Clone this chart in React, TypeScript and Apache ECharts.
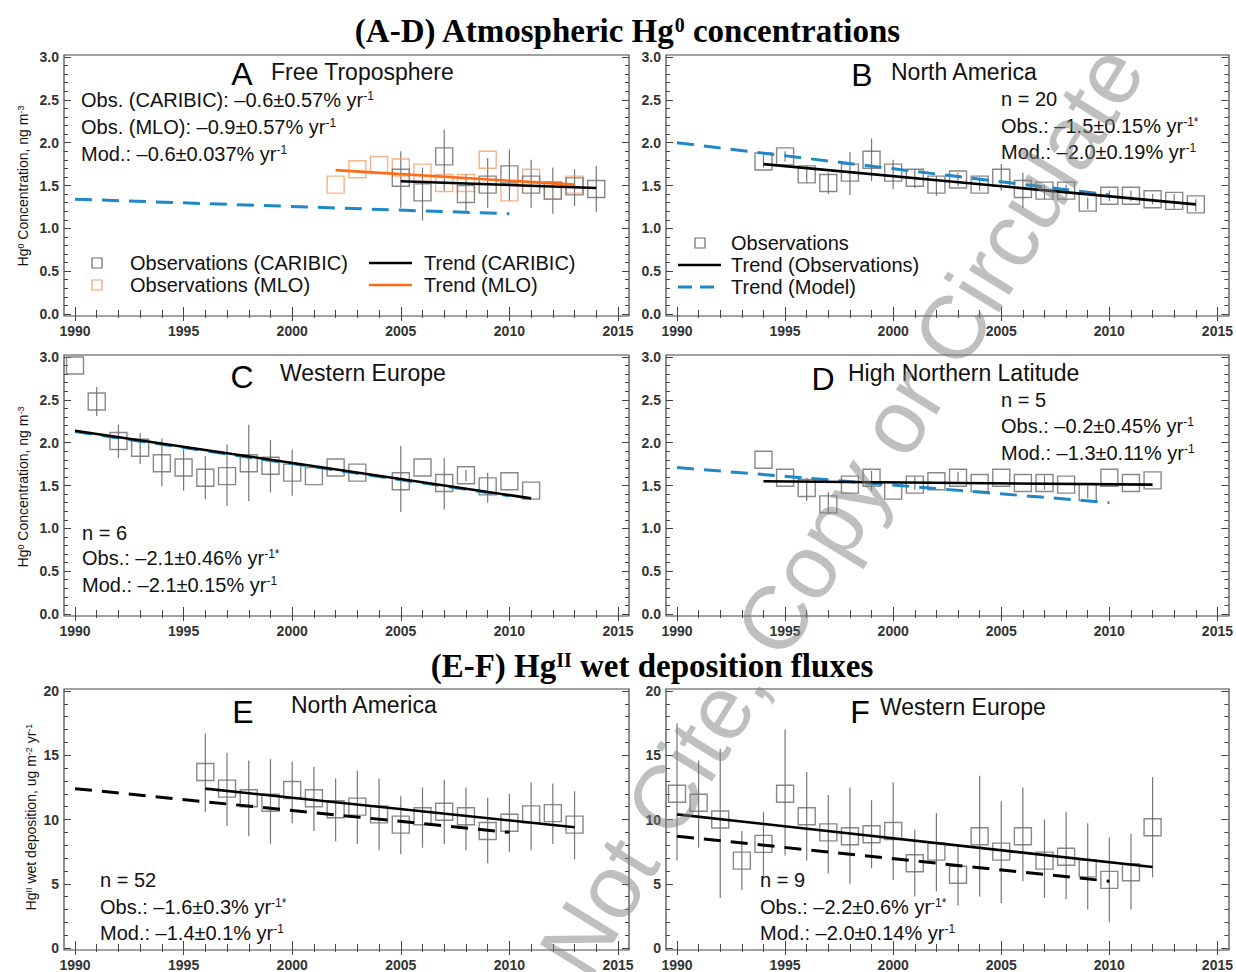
import React, { useEffect, useRef } from "react";
import * as echarts from "echarts";

const SANS = '"Liberation Sans", Arial, Helvetica, sans-serif';
const SERIF = '"Liberation Serif", "Times New Roman", serif';

// ---------- DATA ----------
// Panel A: Free Troposphere
const aCaribicYears = [2005, 2006, 2007, 2008, 2009, 2010, 2011, 2012, 2013, 2014];
const aCaribicVals = [1.59, 1.42, 1.84, 1.4, 1.51, 1.63, 1.51, 1.44, 1.49, 1.46];
const aCaribicLo = [1.24, 1.09, 1.44, 1.2, 1.24, 1.32, 1.24, 1.17, 1.26, 1.19];
const aCaribicHi = [1.9, 1.71, 2.15, 1.63, 1.82, 1.92, 1.8, 1.71, 1.69, 1.73];
const aMloYears = [2002, 2003, 2004, 2005, 2006, 2007, 2008, 2009, 2010, 2011, 2012, 2013];
const aMloVals = [1.51, 1.69, 1.74, 1.71, 1.65, 1.53, 1.53, 1.8, 1.42, 1.59, 1.44, 1.51];
const aTrendCaribic = [[2005, 1.55], [2014, 1.47]];
const aTrendMlo = [[2002, 1.68], [2013, 1.51]];
const aTrendModel = [[1990, 1.34], [2010, 1.17]];

// Panel B: North America (Hg0)
const bYears = [1994, 1995, 1996, 1997, 1998, 1999, 2000, 2001, 2002, 2003, 2004, 2005, 2006, 2007, 2008, 2009, 2010, 2011, 2012, 2013, 2014];
const bVals = [1.78, 1.84, 1.63, 1.53, 1.65, 1.8, 1.65, 1.59, 1.51, 1.57, 1.51, 1.59, 1.46, 1.44, 1.44, 1.3, 1.38, 1.38, 1.34, 1.32, 1.28];
const bLo = [1.71, 1.78, 1.53, 1.4, 1.39, 1.55, 1.46, 1.47, 1.38, 1.49, 1.44, 1.44, 1.24, 1.34, 1.36, 1.22, 1.32, 1.32, 1.28, 1.23, 1.2];
const bHi = [1.86, 1.9, 1.74, 1.65, 1.89, 2.05, 1.8, 1.69, 1.61, 1.65, 1.59, 1.75, 1.65, 1.51, 1.51, 1.36, 1.44, 1.44, 1.4, 1.4, 1.34];
const bTrendObs = [[1994, 1.75], [2014, 1.28]];
const bTrendModel = [[1990, 2.0], [2010, 1.39]];

// Panel C: Western Europe (Hg0)
const cYears = [1990, 1991, 1992, 1993, 1994, 1995, 1996, 1997, 1998, 1999, 2000, 2001, 2002, 2003, 2005, 2006, 2007, 2008, 2009, 2010, 2011];
const cVals = [2.9, 2.48, 2.02, 1.94, 1.76, 1.71, 1.59, 1.61, 1.76, 1.73, 1.65, 1.61, 1.71, 1.65, 1.55, 1.71, 1.53, 1.62, 1.49, 1.55, 1.44];
const cLo = [null, 2.31, 1.82, 1.75, 1.49, 1.44, 1.34, 1.26, 1.32, 1.42, 1.38, null, null, null, 1.19, null, 1.22, 1.55, 1.3, null, null];
const cHi = [null, 2.65, 2.21, 2.11, 2.05, 1.92, 1.84, 1.98, 2.21, 2.03, 1.92, null, null, null, 1.96, null, 1.82, 1.68, 1.65, null, null];
const cTrendObs = [[1990, 2.14], [2011, 1.35]];
const cTrendModel = [[1990, 2.13], [2010, 1.38]];

// Panel D: High Northern Latitude (Hg0)
const dYears = [1994, 1995, 1996, 1997, 1998, 1999, 2000, 2001, 2002, 2003, 2004, 2005, 2006, 2007, 2008, 2009, 2010, 2011, 2012];
const dVals = [1.8, 1.59, 1.47, 1.28, 1.51, 1.59, 1.44, 1.51, 1.55, 1.59, 1.53, 1.59, 1.53, 1.53, 1.51, 1.42, 1.59, 1.53, 1.56];
const dLo = [null, null, 1.32, 1.17, null, 1.44, null, 1.45, null, 1.52, null, null, null, 1.45, null, 1.35, null, null, null];
const dHi = [null, null, 1.59, 1.42, null, 1.67, null, 1.6, null, 1.66, null, null, null, 1.62, null, 1.5, null, null, null];
const dTrendObs = [[1994, 1.55], [2012, 1.51]];
const dTrendModel = [[1990, 1.71], [2010, 1.3]];

// Panel E: North America (wet deposition)
const eYears = [1996, 1997, 1998, 1999, 2000, 2001, 2002, 2003, 2004, 2005, 2006, 2007, 2008, 2009, 2010, 2011, 2012, 2013];
const eVals = [13.7, 12.4, 11.65, 11.3, 12.3, 11.65, 10.8, 11.0, 10.4, 9.6, 10.25, 10.6, 10.25, 9.1, 9.75, 10.4, 10.5, 9.6];
const eLo = [10.6, 9.5, 8.7, 8.1, 9.7, 9.1, 8.3, 8.1, 7.6, 7.3, 7.8, 8.1, 7.6, 6.6, 7.5, 7.6, 8.1, 6.9];
const eHi = [16.7, 15.2, 14.6, 14.7, 14.5, 14.1, 13.2, 13.8, 13.2, 11.8, 12.5, 13.1, 12.5, 11.7, 12.0, 12.9, 12.8, 12.2];
const eTrendObs = [[1996, 12.4], [2013, 9.4]];
const eTrendModel = [[1990, 12.4], [2010, 9.0]];

// Panel F: Western Europe (wet deposition)
const fYears = [1990, 1991, 1992, 1993, 1994, 1995, 1996, 1997, 1998, 1999, 2000, 2001, 2002, 2003, 2004, 2005, 2006, 2007, 2008, 2009, 2010, 2011, 2012];
const fVals = [12.0, 11.3, 10.0, 6.8, 8.1, 12.0, 10.25, 9.0, 8.7, 8.85, 9.1, 6.6, 7.5, 5.7, 8.7, 7.5, 8.7, 6.8, 7.1, 6.2, 5.3, 5.9, 9.4];
const fLo = [6.8, 7.8, 3.9, 4.5, 5.5, 7.2, 6.8, 5.8, 5.0, 6.2, 5.3, 4.0, 4.4, 3.3, 4.0, 3.5, 5.2, 3.9, 3.8, 3.0, 2.0, 3.0, 5.5];
const fHi = [17.5, 14.6, 15.5, 9.1, 10.6, 17.0, 13.7, 11.9, 12.5, 11.5, 12.9, 9.2, 10.5, 8.1, 13.4, 11.4, 12.5, 10.0, 10.6, 9.7, 8.6, 8.9, 13.3];
const fTrendObs = [[1990, 10.4], [2012, 6.3]];
const fTrendModel = [[1990, 8.7], [2010, 5.2]];

const xTickYears = { min: 1990, max: 2015, step: 5 };
const concTicks = { max: 3, step: 0.5, decimals: 1 };
const depTicks = { max: 20, step: 5, decimals: 0 };

// ---------- LAYOUT / STYLE ----------
const COLS = [{ x0: 75, x1: 618 }, { x0: 677, x1: 1218 }];
const ROWS = [{ y0: 57, y1: 314 }, { y0: 357, y1: 614 }, { y0: 691, y1: 948 }];
const PANELS = [
  { col: 0, row: 0, ticks: concTicks },
  { col: 1, row: 0, ticks: concTicks },
  { col: 0, row: 1, ticks: concTicks },
  { col: 1, row: 1, ticks: concTicks },
  { col: 0, row: 2, ticks: depTicks },
  { col: 1, row: 2, ticks: depTicks },
];
const GRAY = "#6a6a6a";
const ORANGE_SQ = "#f4a06c";
const ORANGE = "#ff6a17";
const BLUE = "#1f88c6";
const BLACK = "#000";

function T(x: number, y: number, text: string, size: number, o: any = {}) {
  const family = o.family || SANS;
  const weight = o.weight || "normal";
  const color = o.color || "#111";
  return {
    type: "text",
    x,
    y,
    z: o.z || 20,
    rotation: o.rotation || 0,
    silent: true,
    style: {
      text,
      fontSize: size,
      fontFamily: family,
      fontWeight: weight,
      fill: color,
      textAlign: o.align || "left",
      textVerticalAlign: "middle",
      rich: {
        sup: {
          fontSize: Math.round(size * 0.62),
          fontFamily: family,
          fontWeight: weight,
          fill: color,
          verticalAlign: "top",
        },
      },
    },
  };
}

function errSeries(i: number, years: number[], lo: (number | null)[], hi: (number | null)[]) {
  const data: number[][] = [];
  years.forEach((y, k) => {
    if (lo[k] != null && hi[k] != null) data.push([y, lo[k] as number, hi[k] as number]);
  });
  return {
    type: "custom",
    xAxisIndex: 2 * i,
    yAxisIndex: 2 * i,
    silent: true,
    z: 3,
    encode: { x: 0, y: [1, 2] },
    data,
    renderItem: (_p: any, api: any) => {
      const a = api.coord([api.value(0), api.value(1)]);
      const b = api.coord([api.value(0), api.value(2)]);
      return {
        type: "line",
        shape: { x1: a[0], y1: a[1], x2: b[0], y2: b[1] },
        style: { stroke: "#777", lineWidth: 1.2 },
      };
    },
  };
}

function sqSeries(i: number, years: number[], vals: number[], color: string) {
  return {
    type: "scatter",
    xAxisIndex: 2 * i,
    yAxisIndex: 2 * i,
    silent: true,
    clip: false,
    z: 4,
    symbol: "rect",
    symbolSize: 17,
    itemStyle: { color: "rgba(0,0,0,0)", borderColor: color, borderWidth: 1.4 },
    data: years.map((y, k) => [y, vals[k]]),
  };
}

function lineSeries(i: number, pts: number[][], color: string, dashed: boolean) {
  return {
    type: "line",
    xAxisIndex: 2 * i,
    yAxisIndex: 2 * i,
    silent: true,
    z: dashed ? 5 : 6,
    showSymbol: false,
    symbol: "none",
    data: pts,
    lineStyle: { color, width: dashed ? 3 : 2.6, type: dashed ? [17, 10] : "solid" },
  };
}

function buildOption() {
  const grids: any[] = [];
  const xAxes: any[] = [];
  const yAxes: any[] = [];
  const frames: any[] = [];
  const tickLine = { color: "#444", width: 1 };
  const labelStyle = { fontSize: 14, fontWeight: "bold", fontFamily: SANS, color: "#333" };

  PANELS.forEach((p, i) => {
    const c = COLS[p.col];
    const r = ROWS[p.row];
    grids.push({ left: c.x0, top: r.y0, width: c.x1 - c.x0, height: r.y1 - r.y0 });
    const xc = {
      type: "value",
      gridIndex: i,
      min: xTickYears.min,
      max: xTickYears.max,
      interval: xTickYears.step,
      splitLine: { show: false },
      axisLine: { show: false },
      axisTick: { show: true, inside: true, length: 7, lineStyle: tickLine },
      minorTick: { show: true, splitNumber: 5, length: 4, lineStyle: tickLine },
      minorSplitLine: { show: false },
    };
    xAxes.push({
      ...xc,
      position: "bottom",
      offset: 2,
      axisLabel: { ...labelStyle, margin: 8, formatter: (v: number) => String(v) },
    });
    xAxes.push({ ...xc, position: "top", offset: 2, axisLabel: { show: false } });
    const t = p.ticks;
    const yc = {
      type: "value",
      gridIndex: i,
      min: 0,
      max: t.max,
      interval: t.step,
      splitLine: { show: false },
      axisLine: { show: false },
      axisTick: { show: true, inside: true, length: 7, lineStyle: tickLine },
      minorTick: { show: true, splitNumber: 5, length: 4, lineStyle: tickLine },
      minorSplitLine: { show: false },
    };
    yAxes.push({
      ...yc,
      position: "left",
      offset: 11,
      axisLabel: { ...labelStyle, margin: 5, formatter: (v: number) => v.toFixed(t.decimals) },
    });
    yAxes.push({ ...yc, position: "right", offset: 11, axisLabel: { show: false } });
    frames.push({
      type: "rect",
      z: 1,
      silent: true,
      shape: { x: c.x0 - 11, y: r.y0 - 2, width: c.x1 - c.x0 + 22, height: r.y1 - r.y0 + 4 },
      style: { fill: "none", stroke: "#444", lineWidth: 1.2 },
    });
  });

  const series: any[] = [
    // A
    errSeries(0, aCaribicYears, aCaribicLo, aCaribicHi),
    sqSeries(0, aMloYears, aMloVals, ORANGE_SQ),
    sqSeries(0, aCaribicYears, aCaribicVals, GRAY),
    lineSeries(0, aTrendModel, BLUE, true),
    lineSeries(0, aTrendMlo, ORANGE, false),
    lineSeries(0, aTrendCaribic, BLACK, false),
    // B
    errSeries(1, bYears, bLo, bHi),
    sqSeries(1, bYears, bVals, GRAY),
    lineSeries(1, bTrendModel, BLUE, true),
    lineSeries(1, bTrendObs, BLACK, false),
    // C
    errSeries(2, cYears, cLo, cHi),
    sqSeries(2, cYears, cVals, GRAY),
    lineSeries(2, cTrendModel, BLUE, true),
    lineSeries(2, cTrendObs, BLACK, false),
    // D
    errSeries(3, dYears, dLo, dHi),
    sqSeries(3, dYears, dVals, GRAY),
    lineSeries(3, dTrendModel, BLUE, true),
    lineSeries(3, dTrendObs, BLACK, false),
    // E
    errSeries(4, eYears, eLo, eHi),
    sqSeries(4, eYears, eVals, GRAY),
    lineSeries(4, eTrendModel, BLACK, true),
    lineSeries(4, eTrendObs, BLACK, false),
    // F
    errSeries(5, fYears, fLo, fHi),
    sqSeries(5, fYears, fVals, GRAY),
    lineSeries(5, fTrendModel, BLACK, true),
    lineSeries(5, fTrendObs, BLACK, false),
  ];

  const legend: any[] = [
    // A legend
    { type: "rect", z: 20, shape: { x: 92, y: 258, width: 10, height: 10 }, style: { fill: "none", stroke: GRAY, lineWidth: 1.2 } },
    { type: "rect", z: 20, shape: { x: 92, y: 280, width: 10, height: 10 }, style: { fill: "none", stroke: ORANGE_SQ, lineWidth: 1.2 } },
    { type: "line", z: 20, shape: { x1: 369, y1: 263, x2: 412, y2: 263 }, style: { stroke: BLACK, lineWidth: 2.6 } },
    { type: "line", z: 20, shape: { x1: 369, y1: 285, x2: 412, y2: 285 }, style: { stroke: ORANGE, lineWidth: 2.6 } },
    T(130, 263, "Observations (CARIBIC)", 20),
    T(130, 285, "Observations (MLO)", 20),
    T(424, 263, "Trend (CARIBIC)", 20),
    T(424, 285, "Trend (MLO)", 20),
    // B legend
    { type: "rect", z: 20, shape: { x: 695, y: 238, width: 10, height: 10 }, style: { fill: "none", stroke: GRAY, lineWidth: 1.2 } },
    { type: "line", z: 20, shape: { x1: 678, y1: 265, x2: 721, y2: 265 }, style: { stroke: BLACK, lineWidth: 2.6 } },
    { type: "line", z: 20, shape: { x1: 678, y1: 287, x2: 721, y2: 287 }, style: { stroke: BLUE, lineWidth: 3, lineDash: [14, 8] } },
    T(731, 243, "Observations", 20),
    T(731, 265, "Trend (Observations)", 20),
    T(731, 287, "Trend (Model)", 20),
  ];

  const texts: any[] = [
    T(627, 31, "(A-D) Atmospheric Hg{sup|0} concentrations", 33, { family: SERIF, weight: "bold", align: "center", color: "#000" }),
    T(652, 666, "(E-F) Hg{sup|II} wet deposition fluxes", 33, { family: SERIF, weight: "bold", align: "center", color: "#000" }),
    // y-axis names
    T(23, 186, "Hg{sup|0} Concentration, ng m{sup|-3}", 14, { rotation: Math.PI / 2, align: "center" }),
    T(23, 487, "Hg{sup|0} Concentration, ng m{sup|-3}", 14, { rotation: Math.PI / 2, align: "center" }),
    T(31, 817, "Hg{sup|II} wet deposition, ug m{sup|-2} yr{sup|-1}", 14, { rotation: Math.PI / 2, align: "center" }),
    // A
    T(242, 74, "A", 32, { align: "center", color: "#000" }),
    T(271, 72, "Free Troposphere", 23),
    T(81, 100, "Obs. (CARIBIC): \u20130.6\u00b10.57% yr{sup|-1}", 20),
    T(81, 127, "Obs. (MLO): \u20130.9\u00b10.57% yr{sup|-1}", 20),
    T(81, 154, "Mod.: \u20130.6\u00b10.037% yr{sup|-1}", 20),
    // B
    T(862, 75, "B", 32, { align: "center", color: "#000" }),
    T(891, 72, "North America", 23),
    T(1001, 99, "n = 20", 20),
    T(1001, 126, "Obs.: \u20131.5\u00b10.15% yr{sup|-1*}", 20),
    T(1001, 152, "Mod.: \u20132.0\u00b10.19% yr{sup|-1}", 20),
    // C
    T(242, 377, "C", 32, { align: "center", color: "#000" }),
    T(280, 373, "Western Europe", 23),
    T(82, 533, "n = 6", 20),
    T(82, 558, "Obs.: \u20132.1\u00b10.46% yr{sup|-1*}", 20),
    T(82, 585, "Mod.: \u20132.1\u00b10.15% yr{sup|-1}", 20),
    // D
    T(823, 379, "D", 32, { align: "center", color: "#000" }),
    T(848, 373, "High Northern Latitude", 23),
    T(1001, 400, "n = 5", 20),
    T(1001, 426, "Obs.: \u20130.2\u00b10.45% yr{sup|-1}", 20),
    T(1001, 453, "Mod.: \u20131.3\u00b10.11% yr{sup|-1}", 20),
    // E
    T(243, 712, "E", 32, { align: "center", color: "#000" }),
    T(291, 705, "North America", 23),
    T(100, 880, "n = 52", 20),
    T(100, 907, "Obs.: \u20131.6\u00b10.3% yr{sup|-1*}", 20),
    T(100, 933, "Mod.: \u20131.4\u00b10.1% yr{sup|-1}", 20),
    // F
    T(860, 712, "F", 32, { align: "center", color: "#000" }),
    T(880, 707, "Western Europe", 23),
    T(760, 880, "n = 9", 20),
    T(760, 907, "Obs.: \u20132.2\u00b10.6% yr{sup|-1*}", 20),
    T(760, 933, "Mod.: \u20132.0\u00b10.14% yr{sup|-1}", 20),
    // watermark
    T(805, 570, "Do Not Cite, Copy or Circulate", 90, {
      align: "center",
      rotation: (58.5 * Math.PI) / 180,
      color: "rgba(128,128,128,0.5)",
      z: 100,
    }),
  ];

  return {
    animation: false,
    backgroundColor: "#fff",
    grid: grids,
    xAxis: xAxes,
    yAxis: yAxes,
    series,
    graphic: { elements: [...frames, ...legend, ...texts] },
  };
}

export default function App() {
  const ref = useRef<HTMLDivElement>(null);
  useEffect(() => {
    if (!ref.current) return;
    const chart = echarts.init(ref.current, null, { renderer: "svg" });
    chart.setOption(buildOption() as any);
    return () => chart.dispose();
  }, []);
  return (
    <div
      ref={ref}
      style={{ position: "absolute", left: 0, top: 0, width: 1236, height: 972, background: "#fff" }}
    />
  );
}
